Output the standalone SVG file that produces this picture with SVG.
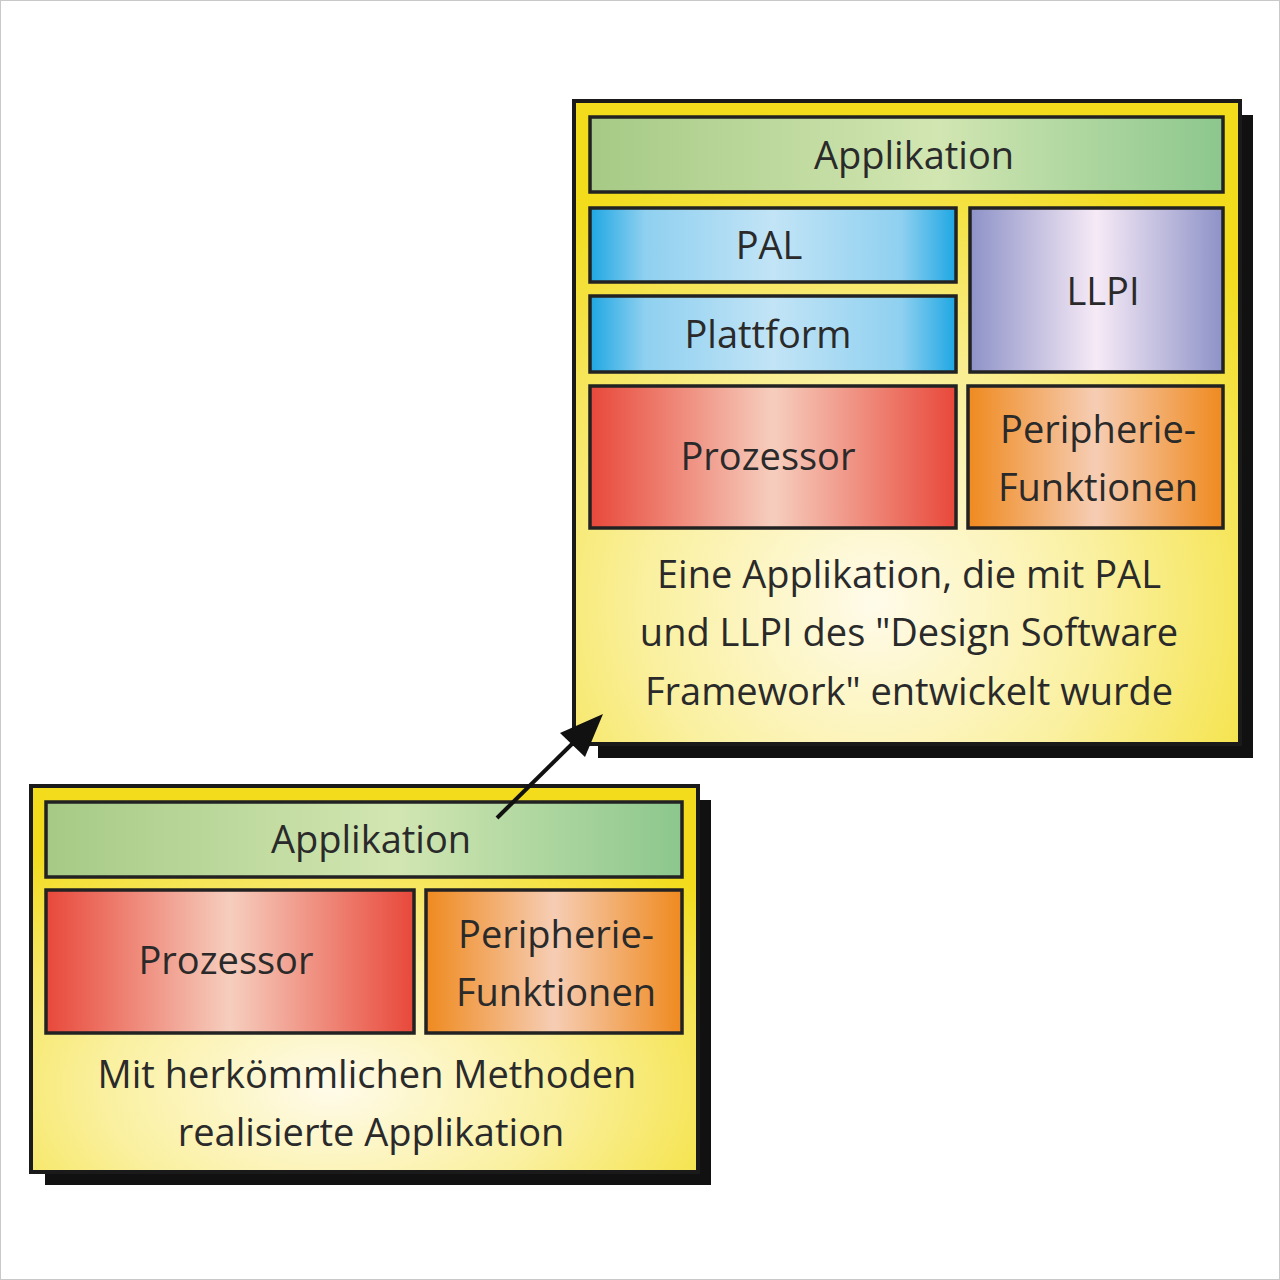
<svg xmlns="http://www.w3.org/2000/svg" width="1280" height="1280" viewBox="0 0 1280 1280">
<defs>
<radialGradient id="gYellow" cx="0.45" cy="0.78" r="0.75">
<stop offset="0" stop-color="#fffbea"/>
<stop offset="0.45" stop-color="#faf0a0"/>
<stop offset="1" stop-color="#f2dc1c"/>
</radialGradient>
<linearGradient id="gGreen" x1="0" y1="0" x2="1" y2="0">
<stop offset="0" stop-color="#a6ca86"/>
<stop offset="0.55" stop-color="#d2e6b2"/>
<stop offset="1" stop-color="#8cc78d"/>
</linearGradient>
<linearGradient id="gBlue" x1="0" y1="0" x2="1" y2="0">
<stop offset="0" stop-color="#1ea7e3"/>
<stop offset="0.15" stop-color="#8fd0f0"/>
<stop offset="0.5" stop-color="#c2e4f6"/>
<stop offset="0.85" stop-color="#8fd0f0"/>
<stop offset="1" stop-color="#1ea7e3"/>
</linearGradient>
<linearGradient id="gPurple" x1="0" y1="0" x2="1" y2="0">
<stop offset="0" stop-color="#8d92c7"/>
<stop offset="0.5" stop-color="#f6eaf6"/>
<stop offset="1" stop-color="#8d92c7"/>
</linearGradient>
<linearGradient id="gRed" x1="0" y1="0" x2="1" y2="0">
<stop offset="0" stop-color="#e8483a"/>
<stop offset="0.5" stop-color="#f6cebe"/>
<stop offset="1" stop-color="#e8483a"/>
</linearGradient>
<linearGradient id="gOrange" x1="0" y1="0" x2="1" y2="0">
<stop offset="0" stop-color="#ef8a1f"/>
<stop offset="0.5" stop-color="#f6cdb4"/>
<stop offset="1" stop-color="#ef8a1f"/>
</linearGradient>
<marker id="arrow" viewBox="0 0 10 10" refX="9" refY="5" markerWidth="14" markerHeight="14" markerUnits="userSpaceOnUse" orient="auto">
<path d="M0,0 L10,5 L0,10 Z" fill="#111"/>
</marker>
</defs>
<style>
.outer{stroke:#1a1a1a;stroke-width:4;fill:url(#gYellow)}
.shadow{fill:#111}
.box{stroke:#222;stroke-width:3.5}
.t{font-family:"Open Sans","Noto Sans",sans-serif;font-size:38px;fill:#2a2a2a;text-anchor:middle}
</style>
<rect x="0.5" y="0.5" width="1279" height="1279" fill="#fff" stroke="#c8c8c8" stroke-width="1"/>

<g id="node-top-container">
<rect class="shadow" x="598" y="115" width="655" height="643"/>
<rect class="outer" x="574" y="101" width="666" height="643"/>
</g>
<g id="node-top-applikation">
<rect class="box" x="590" y="117" width="633" height="75" fill="url(#gGreen)"/>
<text class="t" x="914" y="169">Applikation</text>
</g>
<g id="node-top-pal">
<rect class="box" x="590" y="208" width="366" height="74" fill="url(#gBlue)"/>
<text class="t" x="769" y="259">PAL</text>
</g>
<g id="node-top-plattform">
<rect class="box" x="590" y="296" width="366" height="76" fill="url(#gBlue)"/>
<text class="t" x="768" y="348">Plattform</text>
</g>
<g id="node-top-llpi">
<rect class="box" x="970" y="208" width="253" height="164" fill="url(#gPurple)"/>
<text class="t" x="1103" y="305">LLPI</text>
</g>
<g id="node-top-prozessor">
<rect class="box" x="590" y="386" width="366" height="142" fill="url(#gRed)"/>
<text class="t" x="768" y="470">Prozessor</text>
</g>
<g id="node-top-peripherie">
<rect class="box" x="968" y="386" width="255" height="142" fill="url(#gOrange)"/>
<text class="t" x="1098" y="443">Peripherie-</text>
<text class="t" x="1098" y="501">Funktionen</text>
</g>
<g id="node-top-caption">
<text class="t" x="909" y="588">Eine Applikation, die mit PAL</text>
<text class="t" x="909" y="646">und LLPI des "Design Software</text>
<text class="t" x="909" y="705">Framework" entwickelt wurde</text>
</g>

<g id="node-bottom-container">
<rect class="shadow" x="45" y="800" width="666" height="385"/>
<rect class="outer" x="31" y="786" width="667" height="386"/>
</g>
<g id="node-bottom-applikation">
<rect class="box" x="46" y="802" width="636" height="75" fill="url(#gGreen)"/>
<text class="t" x="371" y="853">Applikation</text>
</g>
<g id="node-bottom-prozessor">
<rect class="box" x="46" y="890" width="368" height="143" fill="url(#gRed)"/>
<text class="t" x="226" y="974">Prozessor</text>
</g>
<g id="node-bottom-peripherie">
<rect class="box" x="426" y="890" width="256" height="143" fill="url(#gOrange)"/>
<text class="t" x="556" y="948">Peripherie-</text>
<text class="t" x="556" y="1006">Funktionen</text>
</g>
<g id="node-bottom-caption">
<text class="t" x="367" y="1088">Mit herkömmlichen Methoden</text>
<text class="t" x="371" y="1146">realisierte Applikation</text>
</g>

<g id="connectors">
<line x1="497" y1="818" x2="574" y2="742" stroke="#111" stroke-width="4"/>
<path d="M603,714 L585,757 L560,733 Z" fill="#111"/>
</g>
</svg>
